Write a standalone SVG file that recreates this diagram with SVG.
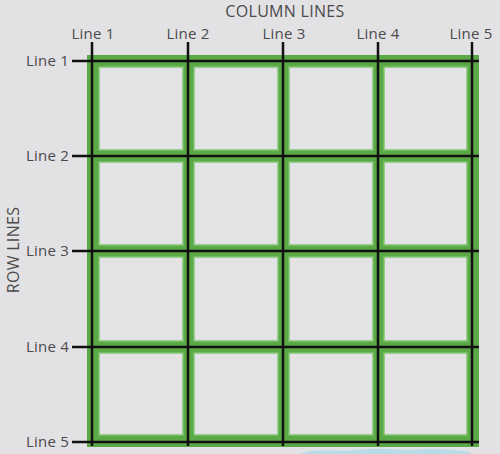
<svg xmlns="http://www.w3.org/2000/svg" width="500" height="454" viewBox="0 0 500 454">
<style>
text{font-family:"Open Sans","Noto Sans","Liberation Sans",sans-serif;fill:#4b4b4d;font-size:15px;letter-spacing:0.2px}
.t{font-size:16px;letter-spacing:0.3px}
.cell{fill:#e3e2e4;stroke:#80c56e;stroke-width:1.5}
.ln{stroke:#111;stroke-width:2.5;fill:none}
</style>
<rect width="500" height="454" fill="#e2e1e3"/>
<path d="M300 454 C310 449 330 450 345 451 C365 448 390 449 410 450 C430 448 450 449 470 452 L470 454 Z" fill="#b9dbe8"/>
<g id="grid-area">
<rect x="87" y="55" width="392" height="392" fill="#5aa846"/>
</g>
<g id="cells">
<rect class="cell" x="99" y="67" width="84" height="83"/>
<rect class="cell" x="194" y="67" width="84" height="83"/>
<rect class="cell" x="289" y="67" width="84" height="83"/>
<rect class="cell" x="384" y="67" width="83" height="83"/>
<rect class="cell" x="99" y="162" width="84" height="83"/>
<rect class="cell" x="194" y="162" width="84" height="83"/>
<rect class="cell" x="289" y="162" width="84" height="83"/>
<rect class="cell" x="384" y="162" width="83" height="83"/>
<rect class="cell" x="99" y="257" width="84" height="84"/>
<rect class="cell" x="194" y="257" width="84" height="84"/>
<rect class="cell" x="289" y="257" width="84" height="84"/>
<rect class="cell" x="384" y="257" width="83" height="84"/>
<rect class="cell" x="99" y="353" width="84" height="82"/>
<rect class="cell" x="194" y="353" width="84" height="82"/>
<rect class="cell" x="289" y="353" width="84" height="82"/>
<rect class="cell" x="384" y="353" width="83" height="82"/>
</g>
<g id="connectors">
<path class="ln" d="M92 42V446M188 42V446M283 42V446M378 42V446M472 42V446"/>
<path class="ln" d="M72 61H479M72 156H479M72 251H479M72 347H479M72 442H479"/>
</g>
<g id="column-labels" text-anchor="middle">
<text class="t" x="285" y="17">COLUMN LINES</text>
<text x="93" y="39">Line 1</text>
<text x="188" y="39">Line 2</text>
<text x="284" y="39">Line 3</text>
<text x="378" y="39">Line 4</text>
<text x="471" y="39">Line 5</text>
</g>
<g id="row-labels" text-anchor="end">
<text x="69" y="66">Line 1</text>
<text x="69" y="161">Line 2</text>
<text x="69" y="256">Line 3</text>
<text x="69" y="352">Line 4</text>
<text x="69" y="447">Line 5</text>
<text class="t" text-anchor="middle" transform="translate(19,250) rotate(-90)">ROW LINES</text>
</g>
</svg>
